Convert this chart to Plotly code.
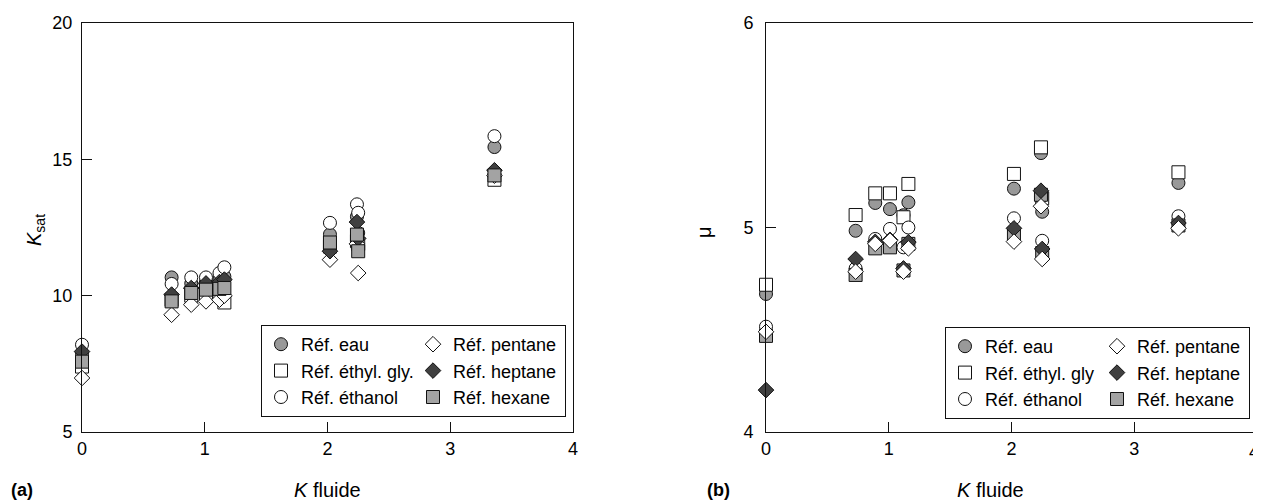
import plotly.graph_objects as go

# page body has an 8px margin: figure placed at (8, 8) in the 1261x504 window
OFF = 8
W, H = 1261 - OFF, 504 - OFF

# K fluide (shared x positions of the fluids)
k_fluide = [0, 0.73, 0.89, 1.01, 1.12, 1.16, 2.02, 2.24, 2.25, 3.36]

# Panel (a): K_sat
ksat_eau     = [7.85, 10.67, 10.45, 10.50, 10.60, 10.70, 12.25, 12.90, 12.30, 15.45]
ksat_ethyl   = [7.40, 9.85, 10.00, 10.00, 10.04, 9.75, 11.80, 12.00, 11.90, 14.25]
ksat_ethanol = [8.20, 10.43, 10.67, 10.67, 10.83, 11.04, 12.67, 13.35, 13.04, 15.85]
ksat_pentane = [6.98, 9.30, 9.67, 9.79, 9.85, 10.00, 11.32, 11.90, 10.83, 14.40]
ksat_heptane = [7.95, 10.04, 10.28, 10.45, 10.50, 10.59, 11.63, 12.70, 12.10, 14.60]
ksat_hexane  = [7.58, 9.79, 10.10, 10.22, 10.25, 10.28, 11.95, 12.24, 11.63, 14.41]

# Panel (b): mu
mu_eau     = [4.675, 4.984, 5.120, 5.090, 5.060, 5.123, 5.190, 5.364, 5.077, 5.218]
mu_ethyl   = [4.720, 5.061, 5.167, 5.167, 5.050, 5.213, 5.262, 5.392, 5.143, 5.270]
mu_ethanol = [4.515, 4.800, 4.944, 4.993, 4.903, 5.000, 5.045, 5.150, 4.935, 5.055]
mu_pentane = [4.490, 4.784, 4.920, 4.936, 4.784, 4.898, 4.931, 5.104, 4.846, 4.996]
mu_heptane = [4.205, 4.846, 4.930, 4.940, 4.800, 4.928, 4.996, 5.180, 4.895, 5.022]
mu_hexane  = [4.470, 4.768, 4.898, 4.903, 4.790, 4.920, 4.968, 5.160, 4.875, 5.010]

x_ticks = [0, 1, 2, 3, 4]
xb_ticks = [0, 1, 2, 3]
ya_ticks = [5, 10, 15, 20]
yb_ticks = [4, 5, 6]

styles = {
    "eau":     dict(symbol="circle", color="#999999", size=13, rank=1, grp="c1"),
    "ethyl":   dict(symbol="square", color="#ffffff", size=13, rank=2, grp="c1"),
    "ethanol": dict(symbol="circle", color="#ffffff", size=13, rank=3, grp="c1"),
    "pentane": dict(symbol="diamond", color="#ffffff", size=12, rank=4, grp="c2"),
    "heptane": dict(symbol="diamond", color="#404040", size=12, rank=5, grp="c2"),
    "hexane":  dict(symbol="square", color="#a3a3a3", size=13, rank=6, grp="c2"),
}

fig = go.Figure()

def add(key, name, y, xa, ya, legend):
    s = styles[key]
    fig.add_trace(go.Scatter(
        x=k_fluide, y=y, mode="markers", name=name, cliponaxis=False,
        xaxis=xa, yaxis=ya, legend=legend, legendrank=s["rank"],
        legendgroup=s["grp"] + legend,
        marker=dict(symbol=s["symbol"], color=s["color"], size=s["size"],
                    line=dict(color="#111111", width=1)),
    ))

# panel (a) draw order
add("eau", "Réf. eau", ksat_eau, "x", "y", "legend")
add("ethyl", "Réf. éthyl. gly.", ksat_ethyl, "x", "y", "legend")
add("ethanol", "Réf. éthanol", ksat_ethanol, "x", "y", "legend")
add("pentane", "Réf. pentane", ksat_pentane, "x", "y", "legend")
add("heptane", "Réf. heptane", ksat_heptane, "x", "y", "legend")
add("hexane", "Réf. hexane", ksat_hexane, "x", "y", "legend")

# panel (b) draw order
add("eau", "Réf. eau", mu_eau, "x2", "y2", "legend2")
add("ethyl", "Réf. éthyl. gly", mu_ethyl, "x2", "y2", "legend2")
add("ethanol", "Réf. éthanol", mu_ethanol, "x2", "y2", "legend2")
add("hexane", "Réf. hexane", mu_hexane, "x2", "y2", "legend2")
add("heptane", "Réf. heptane", mu_heptane, "x2", "y2", "legend2")
add("pentane", "Réf. pentane", mu_pentane, "x2", "y2", "legend2")

def px(x):
    return (x - OFF) / W

def py(y):
    return 1 - (y - OFF) / H

axis_common = dict(showline=True, mirror=True, linecolor="#111111", linewidth=1,
                   ticks="inside", ticklen=10, tickcolor="#111111", showgrid=False,
                   zeroline=False, automargin=False, tickfont=dict(size=18, color="#000"))

legend_common = dict(orientation="h", xanchor="right", yanchor="bottom",
                     entrywidth=107, entrywidthmode="pixels", bordercolor="#111111",
                     borderwidth=1, bgcolor="white", font=dict(size=18),
                     traceorder="grouped", tracegroupgap=0)

ydom = [py(432), py(23)]
fig.update_layout(
    width=W, height=H, margin=dict(l=0, r=0, t=0, b=0),
    paper_bgcolor="white", plot_bgcolor="white",
    font=dict(family="Liberation Sans, Arial, sans-serif", size=18, color="#000"),
    xaxis=dict(domain=[px(82), px(573)], range=[0, 4], tickvals=x_ticks, anchor="y", **axis_common),
    yaxis=dict(domain=ydom, range=[5, 20], tickvals=ya_ticks, anchor="x", ticklabelstandoff=5, **axis_common),
    xaxis2=dict(domain=[px(766), px(1257)], range=[0, 4], tickvals=xb_ticks, anchor="y2", **axis_common),
    yaxis2=dict(domain=ydom, range=[4, 6], tickvals=yb_ticks, anchor="x2", ticklabelstandoff=8, **axis_common),
    showlegend=True,
    legend=dict(x=px(566), y=py(417), **legend_common),
    legend2=dict(x=px(1250), y=py(419), **legend_common),
)

ann = [
    dict(x=px(327), y=py(490), text="<i>K</i> fluide", font=dict(size=20), xanchor="center"),
    dict(x=px(990), y=py(490), text="<i>K</i> fluide", font=dict(size=20), xanchor="center"),
    dict(x=px(9), y=py(490), text="<b>(a)</b>", font=dict(size=18), xanchor="left"),
    dict(x=px(718), y=py(490), text="<b>(b)</b>", font=dict(size=18), xanchor="center"),
    dict(x=px(36), y=py(230), text="<i>K</i><sub>sat</sub>", textangle=-90, font=dict(size=20), xanchor="center"),
    dict(x=px(704), y=py(232), text="μ", textangle=-90, font=dict(size=20), xanchor="center"),
    dict(x=1.0, y=py(452), text="4", font=dict(size=18), xanchor="right"),
]
for a in ann:
    fig.add_annotation(xref="paper", yref="paper", showarrow=False,
                       yanchor="middle", **a)

fig.write_html("out.html")
